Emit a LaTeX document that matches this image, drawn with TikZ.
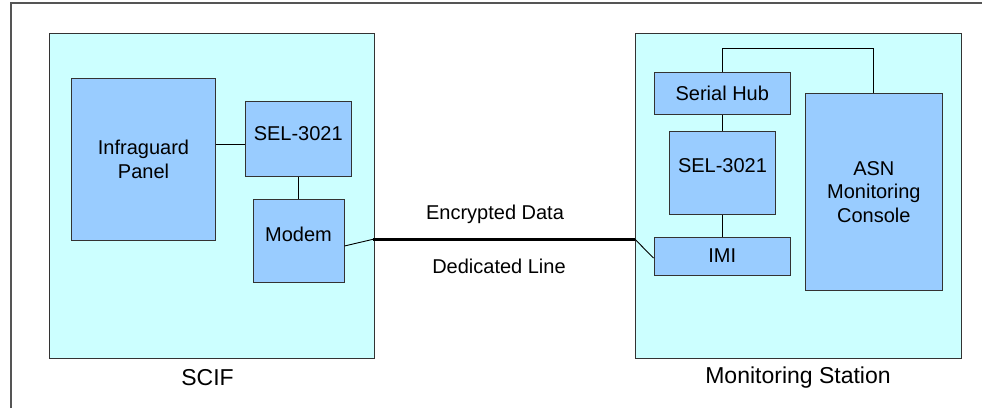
\documentclass[tikz,border=0pt]{standalone}
\usepackage{fontspec}
\setmainfont{Liberation Sans}
\definecolor{roomfill}{HTML}{CCFFFF}
\definecolor{devfill}{HTML}{99CCFF}
\definecolor{edge}{HTML}{333333}
\definecolor{frame}{HTML}{555555}
\begin{document}
\begin{tikzpicture}[x=1pt,y=-1pt,
  room/.style={draw=edge,line width=1pt,fill=roomfill,inner sep=0pt},
  dev/.style={draw=edge,line width=0.9pt,fill=devfill,inner sep=0pt,align=center,
    font=\fontsize{20}{23.5}\selectfont},
  devtxt/.style={font=\fontsize{20}{23.5}\selectfont,inner sep=0pt},
  biglbl/.style={font=\fontsize{23}{27}\selectfont,inner sep=0pt},
  lbl/.style={font=\fontsize{20}{23.5}\selectfont,inner sep=0pt},
  wire/.style={draw=black,line width=0.9pt},
  trunk/.style={draw=black,line width=3pt}]
\useasboundingbox (0,0) rectangle (982,408);
\fill[white] (0,0) rectangle (982,408);
\draw[frame,line width=1.5pt] (11,408) -- (11,3) -- (982,3);
% rooms
\node[room,minimum width=325pt,minimum height=325pt] (scif) at (211.5,195.5) {};
\node[room,minimum width=326pt,minimum height=325pt] (mon) at (798,195.5) {};
\node[biglbl] (scifl) at (207.5,378) {SCIF};
\node[biglbl] (monl) at (798,378) {Monitoring Station};
% SCIF devices
\node[dev,minimum width=144pt,minimum height=162pt] (infra) at (143.5,159.5) {Infraguard\\Panel};
\node[dev,minimum width=106.5pt,minimum height=75.5pt] (sel1) at (298.25,138.75) {};
\node[devtxt] (sel1t) at (298.25,134) {SEL-3021};
\node[dev,minimum width=91pt,minimum height=83pt] (modem) at (298.5,240.5) {};
\node[devtxt] (modemt) at (298.5,234.5) {Modem};
% Monitoring devices
\node[dev,minimum width=136.7pt,minimum height=41.6pt] (hub) at (722.3,93.5) {Serial Hub};
\node[dev,minimum width=106.4pt,minimum height=83pt] (sel2) at (722.5,172.8) {};
\node[devtxt] (sel2t) at (722.5,166) {SEL-3021};
\node[dev,minimum width=136.7pt,minimum height=38pt] (imi) at (722.3,256) {IMI};
\node[dev,minimum width=136.3pt,minimum height=196.3pt] (asn) at (873.85,191.85) {ASN\\Monitoring\\Console};
% connectors
\coordinate (c1) at ([yshift=15pt]infra.east);
\draw[wire] (c1) -- (c1 -| sel1.west);
\draw[wire] (sel1.south) -- (sel1.south |- modem.north);
\coordinate (lj) at (373,239.3);
\coordinate (rj) at (635,239.3);
\coordinate (hubtop) at (722.3,48.3);
\draw[wire] ([yshift=-5.5pt]modem.east) -- (lj);
\draw[trunk] (lj) -- (rj);
\draw[wire] (rj) -- ([yshift=-2pt]imi.west);
\draw[wire] (hub.north) -- (hubtop) -| (asn.north);
\draw[wire] (hub.south) -- (hub.south |- sel2.north);
\draw[wire] (sel2.south) -- (sel2.south |- imi.north);
\node[lbl] (enc) at (495,214) {Encrypted Data};
\node[lbl] (ded) at (499,266.5) {Dedicated Line};
\end{tikzpicture}
\end{document}
